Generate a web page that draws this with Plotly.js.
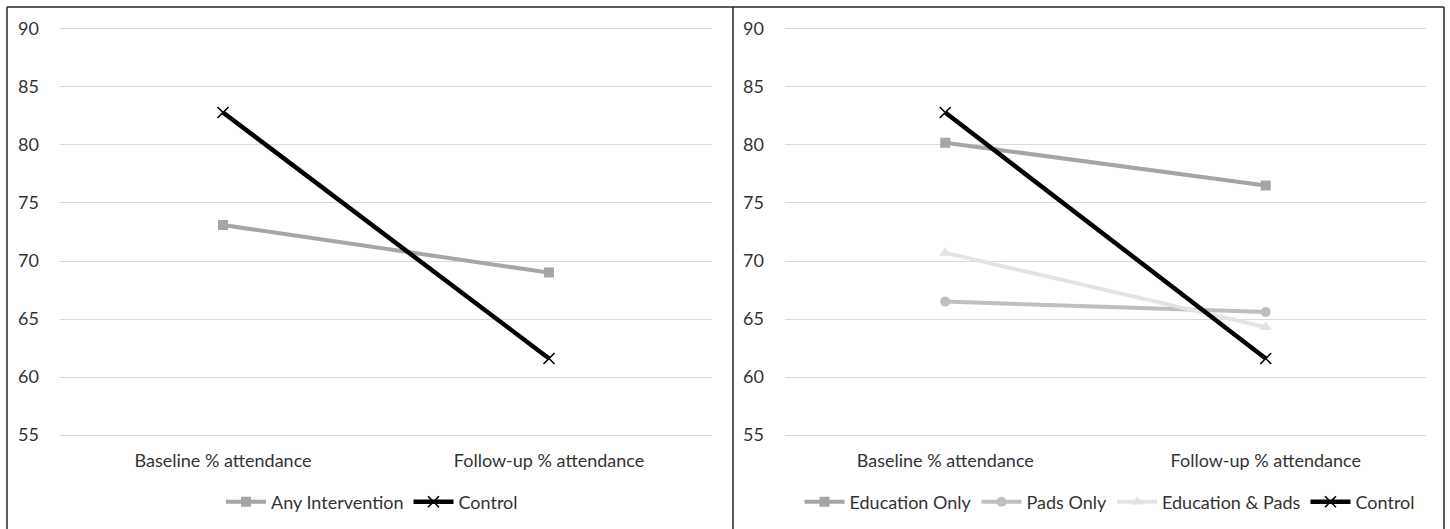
<!DOCTYPE html>
<html>
<head>
<meta charset="utf-8">
<script src="https://cdn.plot.ly/plotly-3.0.1.min.js"></script>
<style>html,body{margin:0;padding:0;background:#fff;}#chart{width:1450px;height:529px;}</style>
</head>
<body>
<div id="chart"></div>
<script>
// ---- data ----
var categories = ["Baseline % attendance", "Follow-up % attendance"];
var anyIntervention = [73.1, 69.0];
var controlLeft = [82.8, 61.6];
var educationOnly = [80.2, 76.5];
var padsOnly = [66.5, 65.6];
var educationAndPads = [70.7, 64.3];
var controlRight = [82.8, 61.6];
var yTicks = [55, 60, 65, 70, 75, 80, 85, 90];

var FONT = "Lato, 'Open Sans', sans-serif";
var TXT = "#333333";
var FS = 18;

function ctrl(y, xa, ya, lg) {
  return {
    x: categories, y: y, xaxis: xa, yaxis: ya, legend: lg,
    name: "Control", type: "scatter", mode: "lines+markers",
    line: {color: "#000000", width: 4.5},
    marker: {symbol: "x-thin", size: 11, color: "#000", line: {width: 1.6, color: "#000000"}}
  };
}

var traces = [
  {x: categories, y: anyIntervention, xaxis: "x", yaxis: "y", legend: "legend",
   name: "Any Intervention", type: "scatter", mode: "lines+markers",
   line: {color: "#a6a6a6", width: 4},
   marker: {symbol: "square", size: 10, color: "#a6a6a6"}},
  ctrl(controlLeft, "x", "y", "legend"),
  {x: categories, y: educationOnly, xaxis: "x2", yaxis: "y2", legend: "legend2",
   name: "Education Only", type: "scatter", mode: "lines+markers",
   line: {color: "#a5a5a5", width: 4},
   marker: {symbol: "square", size: 10, color: "#a5a5a5"}},
  {x: categories, y: padsOnly, xaxis: "x2", yaxis: "y2", legend: "legend2",
   name: "Pads Only", type: "scatter", mode: "lines+markers",
   line: {color: "#bfbfbf", width: 4},
   marker: {symbol: "circle", size: 10, color: "#bfbfbf"}},
  {x: categories, y: educationAndPads, xaxis: "x2", yaxis: "y2", legend: "legend2",
   name: "Education & Pads", type: "scatter", mode: "lines+markers",
   line: {color: "#e3e3e3", width: 4},
   marker: {symbol: "triangle-up", size: 11, color: "#e3e3e3"}},
  ctrl(controlRight, "x2", "y2", "legend2")
];

var W = 1450, H = 529;
function px(x) { return x / W; }
function py(y) { return 1 - y / H; }

var yBase = {
  range: [54.9, 90.1], tickvals: yTicks, showgrid: true, gridcolor: "#d9d9d9", gridwidth: 1,
  zeroline: false, showline: false, ticks: "", ticklabelstandoff: 20,
  tickfont: {family: FONT, size: FS, color: TXT}, fixedrange: true,
  domain: [py(436.2), py(27.8)]
};
var xBase = {
  type: "category", range: [-0.5, 1.5], showgrid: false, zeroline: false, showline: false,
  ticks: "", tickfont: {family: FONT, size: FS, color: TXT}, ticklabelstandoff: 12
};

var layout = {
  width: W, height: H,
  margin: {l: 0, r: 0, t: 0, b: 0},
  paper_bgcolor: "#ffffff", plot_bgcolor: "#ffffff",
  font: {family: FONT, size: FS, color: TXT},
  xaxis: Object.assign({}, xBase, {domain: [px(60), px(712)], anchor: "y"}),
  yaxis: Object.assign({}, yBase, {anchor: "x"}),
  xaxis2: Object.assign({}, xBase, {domain: [px(785), px(1426)], anchor: "y2"}),
  yaxis2: Object.assign({}, yBase, {anchor: "x2"}),
  showlegend: true,
  legend: {orientation: "h", x: px(372), xanchor: "center", y: py(502), yanchor: "middle",
           font: {family: FONT, size: FS, color: TXT}, itemwidth: 40, tracegroupgap: 0,
           bgcolor: "rgba(0,0,0,0)"},
  legend2: {orientation: "h", x: px(1110), xanchor: "center", y: py(502), yanchor: "middle",
           font: {family: FONT, size: FS, color: TXT}, itemwidth: 40, tracegroupgap: 0,
           bgcolor: "rgba(0,0,0,0)"},
  shapes: [
    {type: "line", xref: "paper", yref: "paper", x0: px(7), x1: px(1444), y0: py(7), y1: py(7), line: {color: "#262626", width: 1.5}},
    {type: "line", xref: "paper", yref: "paper", x0: px(7), x1: px(7), y0: py(7), y1: 0, line: {color: "#262626", width: 1.5}},
    {type: "line", xref: "paper", yref: "paper", x0: px(733), x1: px(733), y0: py(7), y1: 0, line: {color: "#262626", width: 1.5}},
    {type: "line", xref: "paper", yref: "paper", x0: px(1444), x1: px(1444), y0: py(7), y1: 0, line: {color: "#262626", width: 1.5}}
  ]
};

Plotly.newPlot("chart", traces, layout, {staticPlot: true, displayModeBar: false});
</script>
</body>
</html>
